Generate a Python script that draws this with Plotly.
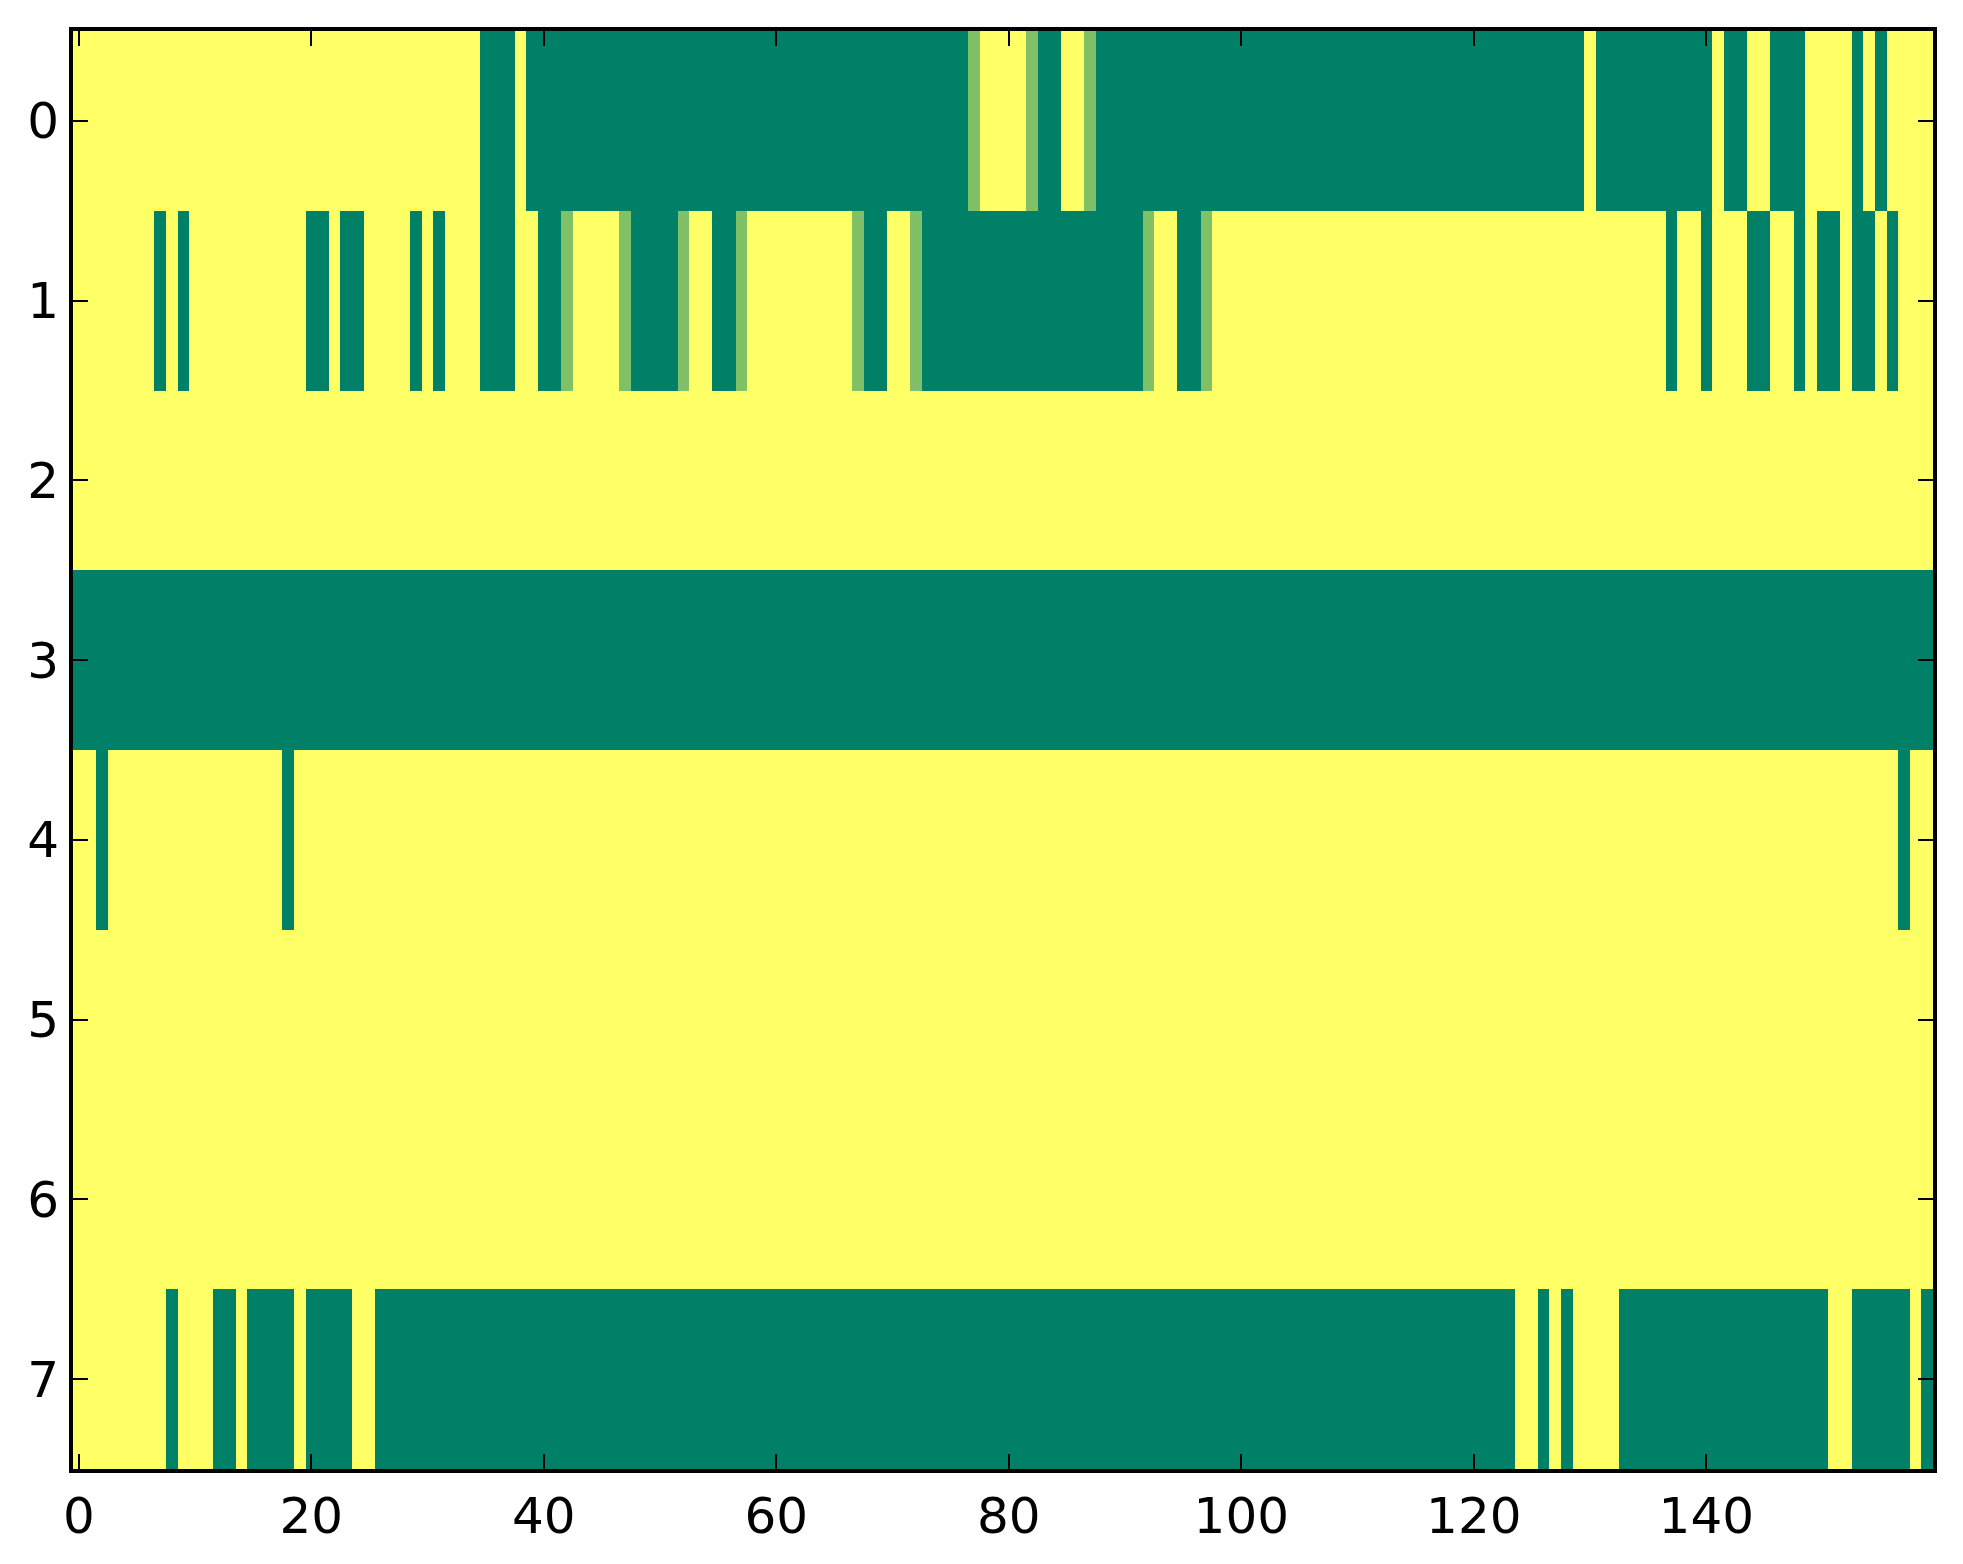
import plotly.graph_objects as go

# one list per image row, 160 columns each (1 = yellow, 0 = green, 0.5 = light green)
row_0 = [
    1, 1, 1, 1, 1, 1, 1, 1, 1, 1, 1, 1, 1, 1, 1, 1, 1, 1, 1, 1,
    1, 1, 1, 1, 1, 1, 1, 1, 1, 1, 1, 1, 1, 1, 1, 0, 0, 0, 1, 0,
    0, 0, 0, 0, 0, 0, 0, 0, 0, 0, 0, 0, 0, 0, 0, 0, 0, 0, 0, 0,
    0, 0, 0, 0, 0, 0, 0, 0, 0, 0, 0, 0, 0, 0, 0, 0, 0, 0.5, 1, 1,
    1, 1, 0.5, 0, 0, 1, 1, 0.5, 0, 0, 0, 0, 0, 0, 0, 0, 0, 0, 0, 0,
    0, 0, 0, 0, 0, 0, 0, 0, 0, 0, 0, 0, 0, 0, 0, 0, 0, 0, 0, 0,
    0, 0, 0, 0, 0, 0, 0, 0, 0, 0, 1, 0, 0, 0, 0, 0, 0, 0, 0, 0,
    0, 1, 0, 0, 1, 1, 0, 0, 0, 1, 1, 1, 1, 0, 1, 0, 1, 1, 1, 1,
]
row_1 = [
    1, 1, 1, 1, 1, 1, 1, 0, 1, 0, 1, 1, 1, 1, 1, 1, 1, 1, 1, 1,
    0, 0, 1, 0, 0, 1, 1, 1, 1, 0, 1, 0, 1, 1, 1, 0, 0, 0, 1, 1,
    0, 0, 0.5, 1, 1, 1, 1, 0.5, 0, 0, 0, 0, 0.5, 1, 1, 0, 0, 0.5, 1, 1,
    1, 1, 1, 1, 1, 1, 1, 0.5, 0, 0, 1, 1, 0.5, 0, 0, 0, 0, 0, 0, 0,
    0, 0, 0, 0, 0, 0, 0, 0, 0, 0, 0, 0, 0.5, 1, 1, 0, 0, 0.5, 1, 1,
    1, 1, 1, 1, 1, 1, 1, 1, 1, 1, 1, 1, 1, 1, 1, 1, 1, 1, 1, 1,
    1, 1, 1, 1, 1, 1, 1, 1, 1, 1, 1, 1, 1, 1, 1, 1, 1, 0, 1, 1,
    0, 1, 1, 1, 0, 0, 1, 1, 0, 1, 0, 0, 1, 0, 0, 1, 0, 1, 1, 1,
]
row_2 = [
    1, 1, 1, 1, 1, 1, 1, 1, 1, 1, 1, 1, 1, 1, 1, 1, 1, 1, 1, 1,
    1, 1, 1, 1, 1, 1, 1, 1, 1, 1, 1, 1, 1, 1, 1, 1, 1, 1, 1, 1,
    1, 1, 1, 1, 1, 1, 1, 1, 1, 1, 1, 1, 1, 1, 1, 1, 1, 1, 1, 1,
    1, 1, 1, 1, 1, 1, 1, 1, 1, 1, 1, 1, 1, 1, 1, 1, 1, 1, 1, 1,
    1, 1, 1, 1, 1, 1, 1, 1, 1, 1, 1, 1, 1, 1, 1, 1, 1, 1, 1, 1,
    1, 1, 1, 1, 1, 1, 1, 1, 1, 1, 1, 1, 1, 1, 1, 1, 1, 1, 1, 1,
    1, 1, 1, 1, 1, 1, 1, 1, 1, 1, 1, 1, 1, 1, 1, 1, 1, 1, 1, 1,
    1, 1, 1, 1, 1, 1, 1, 1, 1, 1, 1, 1, 1, 1, 1, 1, 1, 1, 1, 1,
]
row_3 = [
    0, 0, 0, 0, 0, 0, 0, 0, 0, 0, 0, 0, 0, 0, 0, 0, 0, 0, 0, 0,
    0, 0, 0, 0, 0, 0, 0, 0, 0, 0, 0, 0, 0, 0, 0, 0, 0, 0, 0, 0,
    0, 0, 0, 0, 0, 0, 0, 0, 0, 0, 0, 0, 0, 0, 0, 0, 0, 0, 0, 0,
    0, 0, 0, 0, 0, 0, 0, 0, 0, 0, 0, 0, 0, 0, 0, 0, 0, 0, 0, 0,
    0, 0, 0, 0, 0, 0, 0, 0, 0, 0, 0, 0, 0, 0, 0, 0, 0, 0, 0, 0,
    0, 0, 0, 0, 0, 0, 0, 0, 0, 0, 0, 0, 0, 0, 0, 0, 0, 0, 0, 0,
    0, 0, 0, 0, 0, 0, 0, 0, 0, 0, 0, 0, 0, 0, 0, 0, 0, 0, 0, 0,
    0, 0, 0, 0, 0, 0, 0, 0, 0, 0, 0, 0, 0, 0, 0, 0, 0, 0, 0, 0,
]
row_4 = [
    1, 1, 0, 1, 1, 1, 1, 1, 1, 1, 1, 1, 1, 1, 1, 1, 1, 1, 0, 1,
    1, 1, 1, 1, 1, 1, 1, 1, 1, 1, 1, 1, 1, 1, 1, 1, 1, 1, 1, 1,
    1, 1, 1, 1, 1, 1, 1, 1, 1, 1, 1, 1, 1, 1, 1, 1, 1, 1, 1, 1,
    1, 1, 1, 1, 1, 1, 1, 1, 1, 1, 1, 1, 1, 1, 1, 1, 1, 1, 1, 1,
    1, 1, 1, 1, 1, 1, 1, 1, 1, 1, 1, 1, 1, 1, 1, 1, 1, 1, 1, 1,
    1, 1, 1, 1, 1, 1, 1, 1, 1, 1, 1, 1, 1, 1, 1, 1, 1, 1, 1, 1,
    1, 1, 1, 1, 1, 1, 1, 1, 1, 1, 1, 1, 1, 1, 1, 1, 1, 1, 1, 1,
    1, 1, 1, 1, 1, 1, 1, 1, 1, 1, 1, 1, 1, 1, 1, 1, 1, 0, 1, 1,
]
row_5 = [
    1, 1, 1, 1, 1, 1, 1, 1, 1, 1, 1, 1, 1, 1, 1, 1, 1, 1, 1, 1,
    1, 1, 1, 1, 1, 1, 1, 1, 1, 1, 1, 1, 1, 1, 1, 1, 1, 1, 1, 1,
    1, 1, 1, 1, 1, 1, 1, 1, 1, 1, 1, 1, 1, 1, 1, 1, 1, 1, 1, 1,
    1, 1, 1, 1, 1, 1, 1, 1, 1, 1, 1, 1, 1, 1, 1, 1, 1, 1, 1, 1,
    1, 1, 1, 1, 1, 1, 1, 1, 1, 1, 1, 1, 1, 1, 1, 1, 1, 1, 1, 1,
    1, 1, 1, 1, 1, 1, 1, 1, 1, 1, 1, 1, 1, 1, 1, 1, 1, 1, 1, 1,
    1, 1, 1, 1, 1, 1, 1, 1, 1, 1, 1, 1, 1, 1, 1, 1, 1, 1, 1, 1,
    1, 1, 1, 1, 1, 1, 1, 1, 1, 1, 1, 1, 1, 1, 1, 1, 1, 1, 1, 1,
]
row_6 = [
    1, 1, 1, 1, 1, 1, 1, 1, 1, 1, 1, 1, 1, 1, 1, 1, 1, 1, 1, 1,
    1, 1, 1, 1, 1, 1, 1, 1, 1, 1, 1, 1, 1, 1, 1, 1, 1, 1, 1, 1,
    1, 1, 1, 1, 1, 1, 1, 1, 1, 1, 1, 1, 1, 1, 1, 1, 1, 1, 1, 1,
    1, 1, 1, 1, 1, 1, 1, 1, 1, 1, 1, 1, 1, 1, 1, 1, 1, 1, 1, 1,
    1, 1, 1, 1, 1, 1, 1, 1, 1, 1, 1, 1, 1, 1, 1, 1, 1, 1, 1, 1,
    1, 1, 1, 1, 1, 1, 1, 1, 1, 1, 1, 1, 1, 1, 1, 1, 1, 1, 1, 1,
    1, 1, 1, 1, 1, 1, 1, 1, 1, 1, 1, 1, 1, 1, 1, 1, 1, 1, 1, 1,
    1, 1, 1, 1, 1, 1, 1, 1, 1, 1, 1, 1, 1, 1, 1, 1, 1, 1, 1, 1,
]
row_7 = [
    1, 1, 1, 1, 1, 1, 1, 1, 0, 1, 1, 1, 0, 0, 1, 0, 0, 0, 0, 1,
    0, 0, 0, 0, 1, 1, 0, 0, 0, 0, 0, 0, 0, 0, 0, 0, 0, 0, 0, 0,
    0, 0, 0, 0, 0, 0, 0, 0, 0, 0, 0, 0, 0, 0, 0, 0, 0, 0, 0, 0,
    0, 0, 0, 0, 0, 0, 0, 0, 0, 0, 0, 0, 0, 0, 0, 0, 0, 0, 0, 0,
    0, 0, 0, 0, 0, 0, 0, 0, 0, 0, 0, 0, 0, 0, 0, 0, 0, 0, 0, 0,
    0, 0, 0, 0, 0, 0, 0, 0, 0, 0, 0, 0, 0, 0, 0, 0, 0, 0, 0, 0,
    0, 0, 0, 0, 1, 1, 0, 1, 0, 1, 1, 1, 1, 0, 0, 0, 0, 0, 0, 0,
    0, 0, 0, 0, 0, 0, 0, 0, 0, 0, 0, 1, 1, 0, 0, 0, 0, 0, 1, 0,
]

rows = [row_0, row_1, row_2, row_3, row_4, row_5, row_6, row_7]
x_ticks = [0, 20, 40, 60, 80, 100, 120, 140]
y_ticks = [0, 1, 2, 3, 4, 5, 6, 7]

# matplotlib "summer" is linear from green to yellow
summer = [[0.0, '#008066'], [1.0, '#ffff66']]

fig = go.Figure(go.Heatmap(
    z=rows,
    x=list(range(len(row_0))),
    y=y_ticks,
    colorscale=summer,
    zmin=0,
    zmax=1,
    showscale=False,
))

axis_style = dict(
    showline=True,
    linecolor='black',
    linewidth=4,
    mirror='ticks',
    ticks='inside',
    ticklen=15,
    tickwidth=1.5,
    tickcolor='black',
    showgrid=False,
    zeroline=False,
    automargin=False,
    tickfont=dict(family='DejaVu Sans', size=50, color='black'),
)

fig.update_xaxes(range=[-0.5, 159.5], tickvals=x_ticks, ticklabelstandoff=0, **axis_style)
fig.update_yaxes(range=[7.5, -0.5], tickvals=y_ticks, ticklabelstandoff=0, **axis_style)

# the page body adds 8px around the plot, so the figure is a bit smaller than the window
fig.update_layout(
    width=1947,
    height=1548,
    autosize=False,
    margin=dict(l=65, r=22, t=23, b=87),
    plot_bgcolor='white',
    paper_bgcolor='white',
)

fig.write_html("out.html")
